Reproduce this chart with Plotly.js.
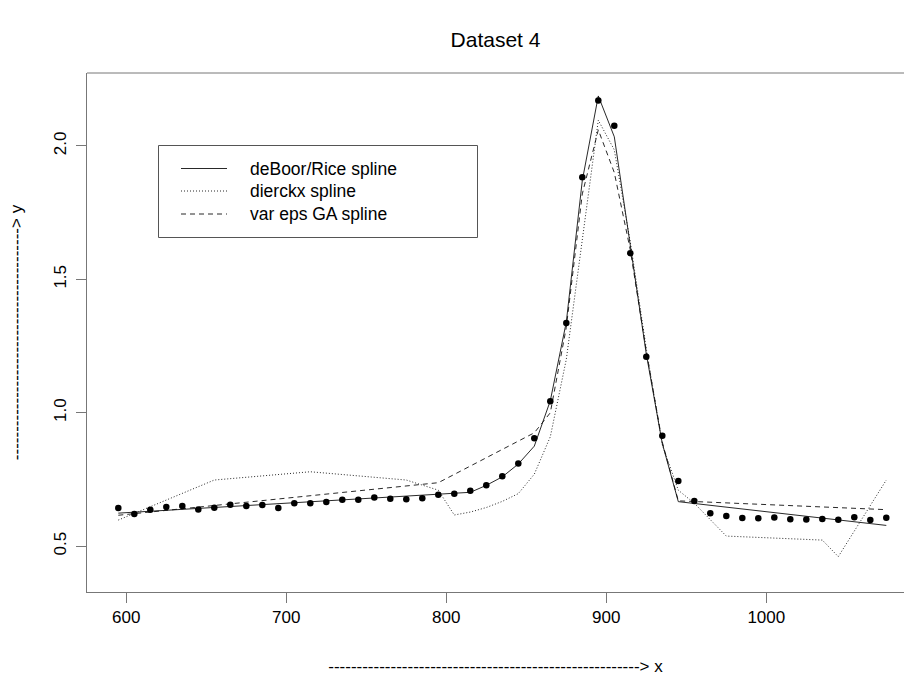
<!DOCTYPE html>
<html>
<head>
<meta charset="utf-8">
<script src="https://cdn.plot.ly/plotly-3.0.1.min.js"></script>
<style>
html,body{margin:0;padding:0;background:#fff;overflow:hidden;}
#chart{width:904px;height:676px;}
</style>
</head>
<body>
<div id="chart"></div>
<script>
// ---- data ----
const chartTitle = 'Dataset 4';
const xLabel = '-------------------------------------------------------> x';
const yLabel = '-----------------------------------------> y';

const obsX = [595,605,615,625,635,645,655,665,675,685,695,705,715,725,735,745,755,765,775,785,
              795,805,815,825,835,845,855,865,875,885,895,905,915,925,935,945,955,965,975,985,
              995,1005,1015,1025,1035,1045,1055,1065,1075];
const obsY = [0.643,0.621,0.637,0.647,0.651,0.638,0.644,0.655,0.651,0.654,0.643,0.661,0.661,0.666,0.674,0.674,0.683,0.678,0.676,0.680,
              0.693,0.697,0.708,0.728,0.762,0.810,0.905,1.043,1.336,1.882,2.170,2.075,1.598,1.210,0.914,0.744,0.669,0.624,0.613,0.606,
              0.605,0.608,0.601,0.600,0.602,0.599,0.609,0.598,0.607];

const deboorX = [595,655,705,755,795,815,825,835,845,855,865,875,885,895,905,915,925,935,945,1075];
const deboorY = [0.624,0.645,0.663,0.680,0.693,0.702,0.728,0.760,0.808,0.875,1.045,1.340,1.870,2.187,2.034,1.630,1.220,0.885,0.667,0.578];

const dierckxX = [595,655,715,775,795,805,815,825,835,845,855,865,875,885,895,905,915,925,935,945,955,975,1035,1045,1075];
const dierckxY = [0.598,0.748,0.779,0.748,0.710,0.617,0.628,0.645,0.668,0.697,0.770,0.910,1.200,1.650,2.096,1.985,1.640,1.240,0.880,0.710,0.661,0.538,0.523,0.461,0.748];

const gaX = [595,795,855,865,875,885,895,905,915,925,935,945,1075];
const gaY = [0.616,0.738,0.925,1.000,1.320,1.820,2.060,1.900,1.610,1.230,0.890,0.670,0.637];

const seriesNames = ['deBoor/Rice spline','dierckx spline','var eps GA spline'];
const xTicks = [600,700,800,900,1000];
const yTicks = [0.5,1.0,1.5,2.0];
const yTickText = ['0.5','1.0','1.5','2.0'];

// ---- styling / layout ----
const FONT = '"Liberation Sans", Arial, Helvetica, sans-serif';
const W = 904, H = 676;
const M = {l:87, r:0, t:73, b:84};
const axisColor = '#777';
const dashes = ['solid','1px,2px','5px,4px'];

const traces = [
  {x: deboorX, y: deboorY, name: seriesNames[0], mode:'lines', line:{color:'#111', width:0.9, dash:dashes[0]}, showlegend:false, hoverinfo:'skip'},
  {x: dierckxX, y: dierckxY, name: seriesNames[1], mode:'lines', line:{color:'#111', width:0.9, dash:dashes[1]}, showlegend:false, hoverinfo:'skip'},
  {x: gaX, y: gaY, name: seriesNames[2], mode:'lines', line:{color:'#111', width:0.9, dash:dashes[2]}, showlegend:false, hoverinfo:'skip'},
  {x: obsX, y: obsY, name: 'data', mode:'markers', marker:{color:'#000', size:6.5}, showlegend:false}
];

// legend drawn in pixel geometry, converted to paper coordinates
const pw = W - M.l - M.r, ph = H - M.t - M.b;
const px = v => (v - M.l) / pw;
const py = v => (H - M.b - v) / ph;
const legBox = {x0:158.5, x1:477.5, y0:145.5, y1:237.5};
const legRows = [168.5, 191, 214];
const sampleX = [181, 227];
const textX = 248;

const shapes = [
  {type:'line', xref:'paper', yref:'paper', x0:0, x1:1, y0:1, y1:1, line:{color:axisColor, width:1}},
  {type:'rect', xref:'paper', yref:'paper', x0:px(legBox.x0), x1:px(legBox.x1), y0:py(legBox.y1), y1:py(legBox.y0),
   line:{color:'#555', width:1}, fillcolor:'rgba(0,0,0,0)'}
];
const annotations = [];
seriesNames.forEach((nm, i) => {
  shapes.push({type:'line', xref:'paper', yref:'paper', x0:px(sampleX[0]), x1:px(sampleX[1]),
               y0:py(legRows[i]), y1:py(legRows[i]), line:{color:'#111', width:0.9, dash:dashes[i]}});
  annotations.push({xref:'paper', yref:'paper', x:px(textX), y:py(legRows[i]), xanchor:'left', yanchor:'middle',
                    text:nm, showarrow:false, font:{family:FONT, size:17.5, color:'#000'}});
});

const layout = {
  width: W, height: H,
  margin: M,
  paper_bgcolor:'#fff', plot_bgcolor:'#fff',
  font:{family:FONT, size:17, color:'#000'},
  title:{text:chartTitle, x:0.5, xref:'paper', xanchor:'center', y:1-40/H, yref:'container', yanchor:'middle',
         font:{family:FONT, size:21, color:'#000'}},
  xaxis:{range:[575.44, 1086.06], tickvals:xTicks, ticktext:xTicks.map(String), ticks:'outside', ticklen:10,
         tickcolor:axisColor, tickwidth:1, showline:true, linecolor:axisColor, linewidth:1, mirror:false,
         showgrid:false, zeroline:false, tickfont:{family:FONT, size:17, color:'#000'},
         title:{text:xLabel, font:{family:FONT, size:17, color:'#000'}, standoff:33}},
  yaxis:{range:[0.3285, 2.273], tickvals:yTicks, ticktext:yTickText, ticks:'outside', ticklen:10, tickangle:-90,
         ticklabelstandoff:3,
         tickcolor:axisColor, tickwidth:1, showline:true, linecolor:axisColor, linewidth:1, mirror:false,
         showgrid:false, zeroline:false, tickfont:{family:FONT, size:17, color:'#000'},
         title:{text:yLabel, font:{family:FONT, size:17, color:'#000'}, standoff:24}},
  shapes: shapes,
  annotations: annotations,
  showlegend:false
};

Plotly.newPlot('chart', traces, layout, {displayModeBar:false, staticPlot:true});
</script>
</body>
</html>
